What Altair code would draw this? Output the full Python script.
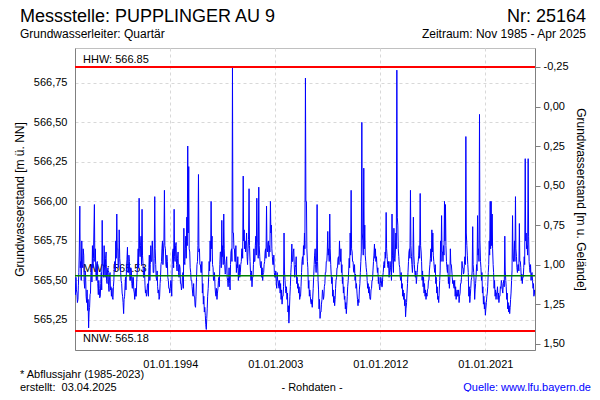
import altair as alt
import pandas as pd

FONT = "Liberation Sans"
GROUND = 566.60  # ground level used for the right axis (m u. Gelaende)

# Groundwater level in cm above 565.00 m ü. NN, two readings per month (1st, 15th),
# one row per year. 1985 starts in November, 2025 ends 1 April.
cm_1985_1994 = [
    [48, 41, 52, 44],
    [42, 36, 38, 47, 55, 68, 97, 58, 62, 50, 75, 60, 58, 70, 66, 49, 45, 56, 52, 40, 36, 44, 31, 38],
    [20, 30, 33, 41, 42, 55, 60, 49, 72, 58, 64, 80, 98, 62, 70, 55, 50, 61, 62, 48, 41, 50, 45, 39],
    [40, 48, 55, 44, 88, 60, 60, 52, 72, 58, 52, 64, 68, 50, 48, 57, 58, 47, 43, 52, 55, 44, 46, 40],
    [45, 39, 38, 46, 50, 60, 62, 56, 75, 64, 92, 70, 70, 58, 60, 82, 64, 60, 55, 50, 48, 42, 40, 36],
    [29, 38, 40, 47, 52, 44, 58, 63, 71, 55, 55, 66, 62, 50, 50, 58, 56, 48, 45, 52, 52, 44, 42, 38],
    [45, 40, 40, 49, 55, 60, 70, 58, 102, 70, 65, 72, 78, 60, 95, 66, 60, 52, 52, 58, 47, 42, 44, 40],
    [42, 47, 48, 40, 58, 66, 50, 60, 72, 62, 62, 75, 68, 55, 55, 64, 103, 70, 60, 52, 50, 56, 46, 42],
    [44, 38, 40, 48, 52, 60, 62, 70, 75, 60, 68, 74, 107, 72, 70, 60, 58, 66, 62, 52, 50, 45, 45, 42],
    [45, 50, 48, 40, 60, 68, 70, 58, 95, 65, 62, 72, 74, 60, 56, 64, 68, 55, 52, 60, 58, 48, 48, 44],
]
cm_1995_2004 = [
    [46, 52, 55, 45, 83, 62, 60, 70, 78, 64, 90, 72, 135, 80, 122, 70, 68, 58, 55, 50, 50, 46, 42, 40],
    [48, 40, 40, 34, 33, 40, 52, 60, 62, 72, 117, 68, 70, 60, 60, 55, 55, 62, 42, 48, 35, 40, 30, 33],
    [28, 22, 19, 26, 32, 40, 45, 52, 62, 56, 75, 62, 100, 70, 78, 60, 58, 50, 50, 55, 46, 42, 40, 45],
    [38, 42, 45, 50, 52, 46, 60, 68, 68, 58, 88, 65, 72, 60, 92, 70, 60, 54, 55, 62, 65, 52, 50, 46],
    [52, 58, 48, 44, 60, 68, 70, 62, 185, 80, 80, 70, 70, 62, 62, 72, 55, 60, 58, 65, 50, 56, 60, 52],
    [55, 60, 62, 70, 70, 64, 116, 75, 82, 70, 75, 68, 72, 80, 65, 60, 70, 76, 108, 72, 62, 55, 50, 56],
    [46, 52, 52, 60, 70, 62, 62, 72, 78, 66, 102, 75, 75, 64, 109, 72, 65, 60, 58, 62, 52, 58, 50, 54],
    [55, 60, 62, 68, 70, 64, 97, 70, 68, 74, 75, 65, 72, 68, 100, 80, 85, 70, 65, 60, 60, 66, 55, 52],
    [52, 56, 48, 45, 55, 50, 50, 46, 45, 50, 42, 48, 38, 44, 35, 40, 40, 46, 80, 56, 50, 45, 42, 46],
    [38, 42, 30, 34, 23, 30, 40, 46, 55, 60, 73, 62, 62, 68, 70, 60, 52, 58, 60, 65, 48, 52, 45, 48],
]
cm_2005_2014 = [
    [42, 46, 38, 40, 40, 46, 55, 62, 65, 60, 72, 66, 80, 70, 178, 100, 100, 70, 62, 58, 45, 50, 40, 44],
    [40, 36, 35, 38, 33, 38, 45, 52, 60, 66, 70, 60, 55, 62, 98, 62, 50, 44, 32, 38, 26, 30, 30, 35],
    [38, 44, 42, 38, 40, 46, 48, 55, 55, 62, 62, 68, 81, 66, 70, 62, 92, 70, 60, 54, 48, 52, 40, 44],
    [36, 40, 34, 38, 45, 50, 52, 58, 58, 64, 65, 60, 75, 66, 62, 70, 55, 60, 48, 52, 42, 46, 38, 40],
    [32, 36, 29, 34, 40, 46, 50, 56, 64, 58, 80, 66, 107, 70, 68, 62, 62, 56, 55, 60, 50, 54, 45, 48],
    [42, 38, 34, 38, 36, 44, 48, 55, 62, 68, 150, 80, 75, 66, 121, 70, 85, 66, 62, 58, 55, 50, 45, 48],
    [42, 46, 40, 38, 38, 44, 45, 50, 50, 56, 62, 66, 73, 64, 70, 62, 65, 60, 55, 58, 48, 52, 46, 44],
    [48, 52, 50, 46, 46, 52, 55, 60, 62, 58, 68, 64, 93, 70, 65, 60, 58, 62, 52, 56, 62, 58, 55, 50],
    [92, 66, 60, 55, 83, 64, 62, 68, 80, 70, 183, 90, 85, 70, 65, 60, 58, 52, 50, 55, 45, 48, 40, 44],
    [38, 42, 34, 38, 27, 32, 36, 42, 48, 55, 62, 68, 70, 64, 107, 72, 65, 60, 55, 60, 90, 66, 60, 55],
]
cm_2015_2025 = [
    [52, 56, 48, 52, 55, 60, 62, 66, 72, 64, 105, 72, 68, 62, 50, 56, 46, 52, 42, 48, 40, 44, 38, 42],
    [40, 44, 45, 50, 50, 56, 60, 64, 70, 62, 82, 68, 80, 66, 62, 58, 55, 60, 48, 52, 42, 46, 38, 40],
    [36, 42, 50, 56, 75, 62, 91, 68, 68, 62, 72, 66, 100, 75, 98, 72, 62, 58, 55, 60, 48, 52, 45, 50],
    [70, 60, 60, 56, 52, 48, 50, 46, 45, 50, 40, 46, 38, 42, 44, 40, 40, 44, 36, 40, 42, 48, 48, 52],
    [62, 58, 58, 54, 55, 60, 65, 60, 141, 80, 72, 66, 60, 55, 40, 46, 36, 40, 45, 50, 52, 56, 84, 60],
    [55, 50, 38, 44, 48, 52, 60, 56, 91, 66, 70, 62, 155, 75, 62, 58, 50, 55, 42, 46, 35, 40, 32, 36],
    [28, 32, 36, 40, 42, 46, 55, 60, 75, 66, 100, 70, 100, 72, 92, 70, 60, 55, 45, 50, 40, 44, 38, 42],
    [42, 46, 38, 42, 36, 40, 40, 46, 45, 50, 48, 44, 42, 48, 50, 46, 78, 56, 50, 46, 38, 42, 32, 36],
    [30, 34, 29, 33, 38, 42, 50, 56, 91, 64, 62, 68, 75, 62, 103, 70, 65, 58, 55, 60, 60, 56, 86, 62],
    [62, 58, 50, 54, 48, 52, 52, 58, 65, 60, 127, 75, 80, 70, 72, 66, 127, 78, 62, 58, 55, 60, 50, 54],
    [55, 50, 45, 48, 40, 44, 41],
]

HHW, NNW, MW = 566.85, 565.18, 565.53
left_ticks = [565.25, 565.50, 565.75, 566.00, 566.25, 566.50, 566.75]
right_ticks = [-0.25, 0.0, 0.25, 0.50, 0.75, 1.00, 1.25, 1.50]
x_tick_years = [1994, 2003, 2012, 2021]

rows = []
year = 1985
for block in (cm_1985_1994, cm_1995_2004, cm_2005_2014, cm_2015_2025):
    for vals in block:
        start = "1985-11-01" if year == 1985 else f"{year}-01-01"
        for d, v in zip(pd.date_range(start, periods=len(vals), freq="SMS"), vals):
            rows.append({"date": d, "level": 565.0 + v / 100.0})
        year += 1
df = pd.DataFrame(rows)
df["depth"] = GROUND - df["level"]

Y_DOM = [565.06, 566.97]
yscale = alt.Scale(domain=Y_DOM, nice=False, zero=False)
dscale = alt.Scale(domain=[GROUND - Y_DOM[1], GROUND - Y_DOM[0]], reverse=True, nice=False, zero=False)

num_fmt = "replace(replace(format(datum.value, '.2f'), '.', ','), '\u2212', '-')"

xenc = alt.X(
    "date:T",
    scale=alt.Scale(domain=[alt.DateTime(year=1985, month=11, date=1),
                            alt.DateTime(year=2025, month=4, date=3)]),
    axis=alt.Axis(
        values=[alt.DateTime(year=y, month=1, date=1) for y in x_tick_years],
        labelExpr="timeFormat(datum.value, '%d.%m.%Y')",
        title=None, grid=True, gridDash=[3, 3], gridColor="#d8d8d8",
        ticks=False, domainColor="#808080", labelPadding=8,
    ),
)

left_axis = alt.Axis(
    values=left_ticks, labelExpr=num_fmt,
    title="Grundwasserstand [m ü. NN]", titlePadding=7,
    grid=True, gridDash=[3, 3], gridColor="#d8d8d8",
    ticks=False, domainColor="#808080", labelPadding=8,
)
right_axis = alt.Axis(
    orient="right", values=right_ticks, labelExpr=num_fmt,
    title="Grundwasserstand [m u. Gelände]", titlePadding=5,
    grid=False, ticks=True, tickSize=5, tickColor="#808080",
    domainColor="#808080", labelPadding=3,
)

def yenc(field):
    return alt.Y(field, scale=yscale, axis=left_axis)

ref_labels = pd.DataFrame({
    "v": [HHW, NNW, MW],
    "label": ["HHW: 566.85", "NNW: 565.18", "MW*: 565.53"],
    "dy": [-4, 11, -4],
})

def ref_text(i):
    row = ref_labels.iloc[[i]]
    return alt.Chart(row).mark_text(
        align="left", baseline="alphabetic", dy=int(row["dy"].iloc[0]),
        font=FONT, fontSize=11, color="black",
    ).encode(x=alt.value(8), y=yenc("v:Q"), text="label:N")

line = alt.Chart(df).mark_line(color="#0000ff", strokeWidth=1, clip=True).encode(
    x=xenc, y=yenc("level:Q")
)

red = alt.Chart(pd.DataFrame({"v": [HHW, NNW]})).mark_rule(color="#ff0000", strokeWidth=2).encode(
    y=yenc("v:Q")
)
green = alt.Chart(pd.DataFrame({"v": [MW]})).mark_rule(color="#008000", strokeWidth=1.5).encode(
    y=yenc("v:Q")
)

def txt(s, x, y, size=11, align="left", color="black"):
    return alt.Chart(pd.DataFrame({"t": [s]})).mark_text(
        align=align, baseline="alphabetic", font=FONT, fontSize=size, color=color,
    ).encode(x=alt.value(x), y=alt.value(y), text="t:N")

texts = [
    txt("Messstelle: PUPPLINGER AU 9", -55, -26, 18),
    txt("Nr: 25164", 511, -26, 18, "right"),
    txt("Grundwasserleiter: Quartär", -55, -10, 12),
    txt("Zeitraum: Nov 1985 - Apr 2025", 511, -10, 12, "right"),
    txt("* Abflussjahr (1985-2023)", -55, 330, 11),
    txt("erstellt:\u00a0\u00a003.04.2025", -55, 343, 11),
    txt("- Rohdaten -", 237, 343, 11, "center"),
    txt("Quelle: www.lfu.bayern.de", 516, 343, 11, "right", "#0000ff"),
]

inner = alt.layer(ref_text(0), ref_text(1), ref_text(2), line, red, green, *texts)

depth = alt.Chart(df).mark_line(opacity=0).encode(
    x=xenc, y=alt.Y("depth:Q", scale=dscale, axis=right_axis)
)

chart = alt.layer(inner, depth).resolve_scale(y="independent").properties(
    width=460, height=302,
    padding={"left": 67, "top": 40, "right": 57, "bottom": 42},
    autosize=alt.AutoSizeParams(type="none"),
    background="white",
).configure_view(stroke="#c0c0c0", strokeWidth=1).configure_axis(
    labelFont=FONT, labelFontSize=11, labelColor="black",
    titleFont=FONT, titleFontSize=12, titleFontWeight="normal", titleColor="black",
)

chart.save("out.html", embed_options={"renderer": "svg", "actions": False})
